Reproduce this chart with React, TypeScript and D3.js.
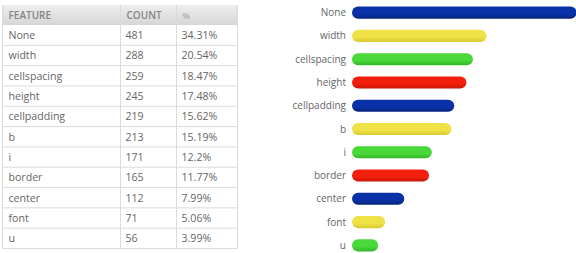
import React from "react";
import * as d3 from "d3";

const features = ["None", "width", "cellspacing", "height", "cellpadding", "b", "i", "border", "center", "font", "u"];
const counts = [481, 288, 259, 245, 219, 213, 171, 165, 112, 71, 56];
const percents = ["34.31%", "20.54%", "18.47%", "17.48%", "15.62%", "15.19%", "12.2%", "11.77%", "7.99%", "5.06%", "3.99%"];
const headers = ["FEATURE", "COUNT", "%"];
const barColors = ["#0a32a8", "#efe246", "#4ad83a", "#f21f0c"];
const barColorsDark = ["#06237a", "#d8c92e", "#33b826", "#c8160a"];

const W = 576;
const H = 253;
const FONT = "'Open Sans', 'DejaVu Sans', sans-serif";

export default function App() {
  const tLeft = 2.5, tRight = 237.5;
  const colX = [tLeft, 120.5, 176.5, tRight];
  const headerTop = 5, headerBottom = 25;
  const rowY = d3.scaleBand<string>().domain(features).range([headerBottom, 248.5]).paddingInner(0).paddingOuter(0);

  const x0 = 352;
  const x = d3.scaleLinear().domain([0, 481]).range([x0, x0 + 224.6]);
  const barY = d3.scaleBand<string>().domain(features).range([1, 257]).paddingInner(0.48).paddingOuter(0.24);

  return (
    <svg width={W} height={H} style={{ position: "absolute", left: 0, top: 0, display: "block" }}>
      <defs>
        <linearGradient id="hdr" x1="0" y1="0" x2="0" y2="1">
          <stop offset="0" stopColor="#eeeeee" />
          <stop offset="1" stopColor="#d6d6d6" />
        </linearGradient>
        {barColors.map((c, i) => (
          <linearGradient key={i} id={`bar${i}`} x1="0" y1="0" x2="0" y2="1">
            <stop offset="0" stopColor={c} />
            <stop offset="0.6" stopColor={c} />
            <stop offset="1" stopColor={barColorsDark[i]} />
          </linearGradient>
        ))}
      </defs>
      <rect x={0} y={0} width={W} height={H} fill="#ffffff" />

      <rect x={tLeft} y={headerTop} width={tRight - tLeft} height={headerBottom - headerTop} fill="url(#hdr)" />
      {headers.map((h, i) => (
        <text key={h} x={colX[i] + 6} y={19} fontFamily={FONT} fontSize={i === 2 ? 8.5 : 10} fontWeight={600} fill={i === 2 ? "#aaa" : "#858585"}>
          {h}
        </text>
      ))}
      {features.map((f, i) => {
        const y = rowY(f)!;
        const bh = rowY.bandwidth();
        return (
          <g key={f}>
            <line x1={tLeft} x2={tRight} y1={y + bh} y2={y + bh} stroke="#dcdcdc" strokeWidth={1} />
            <text x={colX[0] + 6} y={y + bh / 2 + 4} fontFamily={FONT} fontSize={10.6} fill="#666">{f}</text>
            <text x={colX[1] + 5} y={y + bh / 2 + 4} fontFamily={FONT} fontSize={10.6} fill="#666">{counts[i]}</text>
            <text x={colX[2] + 5} y={y + bh / 2 + 4} fontFamily={FONT} fontSize={10.6} fill="#666">{percents[i]}</text>
          </g>
        );
      })}
      <line x1={tLeft} x2={tLeft} y1={headerTop} y2={248.5} stroke="#dcdcdc" />
      <line x1={tRight} x2={tRight} y1={headerTop} y2={248.5} stroke="#dcdcdc" />
      <line x1={colX[1]} x2={colX[1]} y1={headerTop} y2={248.5} stroke="#dcdcdc" />
      <line x1={colX[2]} x2={colX[2]} y1={headerTop} y2={248.5} stroke="#dcdcdc" />

      {features.map((f, i) => {
        const y = barY(f)!;
        const bh = barY.bandwidth();
        const w = x(counts[i]) - x0;
        return (
          <g key={"b" + f}>
            <rect x={x0} y={y} width={w} height={bh} rx={bh / 2} ry={bh / 2} fill={`url(#bar${i % 4})`} />
            <text x={x0 - 6} y={y + bh / 2 + 3.5} textAnchor="end" fontFamily={FONT} fontSize={10} fill="#666">{f}</text>
          </g>
        );
      })}
    </svg>
  );
}
